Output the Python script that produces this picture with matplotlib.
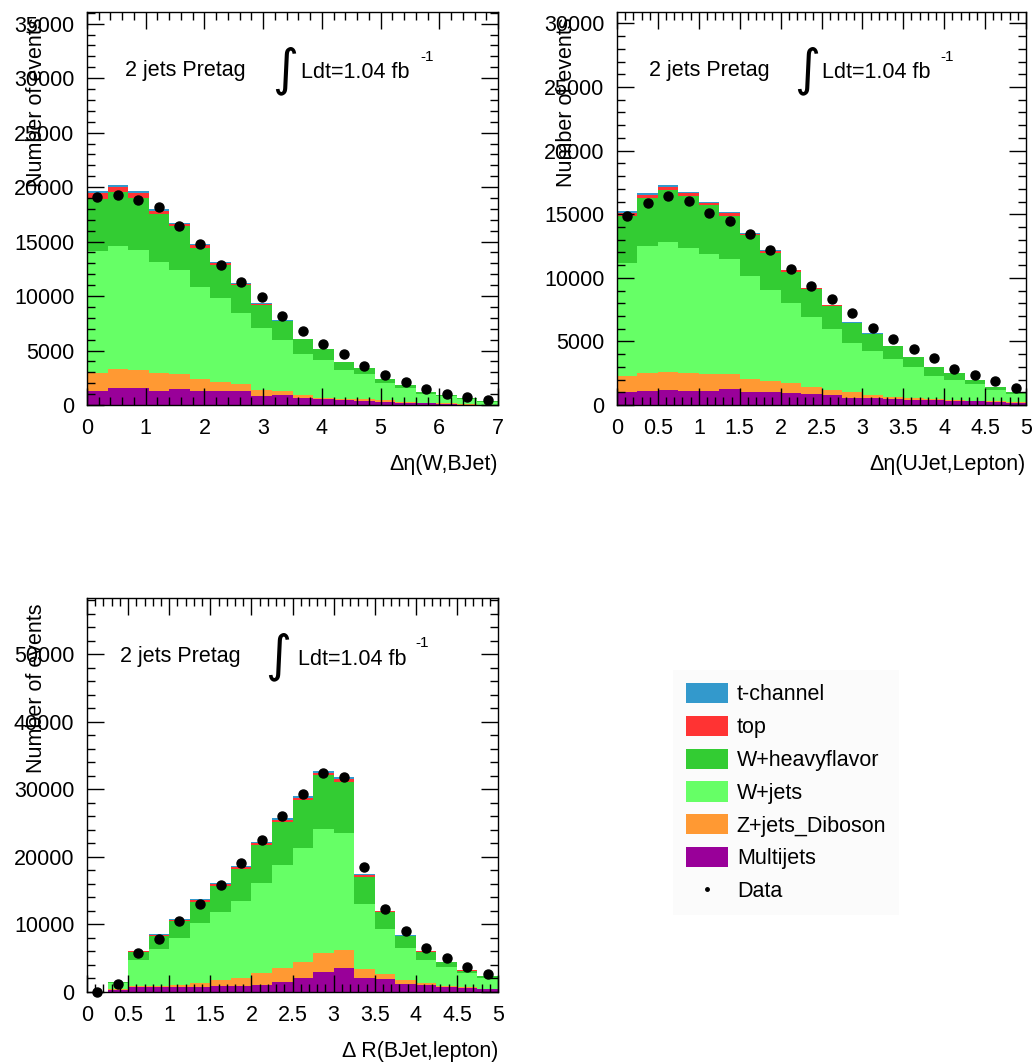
import numpy as np
import matplotlib
matplotlib.use('Agg')
import matplotlib.pyplot as plt
from matplotlib.patches import Patch
from matplotlib.lines import Line2D
from matplotlib.ticker import MultipleLocator, FormatStrFormatter

plt.rcParams['font.family'] = ['Liberation Sans', 'DejaVu Sans']

names = ['t-channel', 'top', 'W+heavyflavor', 'W+jets', 'Z+jets_Diboson', 'Multijets']
colors = ['#3399cc', '#ff3333', '#33cc33', '#66ff66', '#ff9933', '#990099']

# panel 1: delta eta(W, BJet), 20 bins 0..7
p1_tch = [150, 150, 150, 120, 100, 80, 70, 60, 50, 40, 30, 25, 20, 15, 10, 8, 6, 5, 4, 3]
p1_top = [550, 500, 500, 350, 250, 250, 150, 120, 80, 60, 40, 30, 20, 20, 15, 10, 8, 5, 5, 3]
p1_whf = [4780, 4900, 4750, 4400, 3970, 3570, 3040, 2530, 2150, 1670, 1360, 1010, 720, 580, 380, 280, 200, 100, 120, 60]
p1_wj = [11270, 11270, 10990, 10200, 9600, 8490, 7710, 6550, 5700, 4690, 3750, 3440, 2620, 2310, 1520, 1230, 790, 640, 430, 270]
p1_zj = [1590, 1740, 1730, 1590, 1370, 1070, 880, 670, 550, 400, 300, 150, 120, 120, 160, 90, 60, 90, 170, 110]
p1_mj = [1310, 1610, 1530, 1310, 1460, 1310, 1250, 1250, 820, 910, 610, 520, 460, 400, 300, 210, 150, 90, -80, -80]
p1_data = [19100, 19280, 18800, 18190, 16420, 14740, 12880, 11330, 9960, 8190, 6760, 5640, 4720, 3560, 2800, 2130, 1430, 1000, 700, 430]

# panel 2: delta eta(UJet, Lepton), 20 bins 0..5
p2_tch = [120, 120, 120, 110, 100, 90, 80, 70, 60, 50, 40, 30, 25, 20, 15, 12, 10, 8, 6, 5]
p2_top = [250, 250, 250, 220, 200, 180, 150, 130, 100, 80, 60, 50, 40, 30, 25, 20, 15, 10, 8, 6]
p2_whf = [3700, 3810, 4130, 4120, 3850, 3440, 3190, 2880, 2460, 2180, 1830, 1550, 1300, 1020, 750, 670, 540, 320, 250, 170]
p2_wj = [8890, 9940, 10190, 9800, 9360, 9020, 8100, 7170, 6320, 5530, 4780, 3890, 3480, 2960, 2430, 1830, 1570, 1280, 880, 650]
p2_zj = [1230, 1410, 1430, 1410, 1360, 1200, 1000, 860, 740, 550, 400, 420, 260, 180, 180, 80, 70, 40, 40, 30]
p2_mj = [1040, 1120, 1180, 1120, 1120, 1230, 1040, 1040, 960, 840, 780, 570, 520, 470, 390, 390, 320, 300, 260, 180]
p2_data = [14900, 15860, 16460, 16070, 15110, 14430, 13410, 12150, 10720, 9350, 8330, 7240, 6090, 5230, 4410, 3660, 2870, 2330, 1860, 1360]

# panel 3: delta R(BJet, lepton), 20 bins 0..5
p3_tch = [5, 40, 80, 100, 120, 150, 170, 190, 200, 220, 240, 260, 260, 140, 100, 70, 50, 40, 30, 20]
p3_top = [5, 60, 120, 150, 180, 220, 250, 280, 300, 330, 350, 380, 380, 200, 140, 100, 70, 50, 40, 30]
p3_whf = [10, 40, 1180, 1970, 2510, 3180, 3960, 4670, 5560, 6360, 7060, 7980, 7550, 4050, 2520, 1710, 1260, 740, 410, 290]
p3_wj = [30, 980, 3840, 5430, 6860, 8880, 10020, 11380, 13400, 15180, 16860, 18390, 17350, 9670, 6660, 4780, 3450, 2760, 2080, 1590]
p3_zj = [100, 150, 100, 140, 390, 590, 880, 1230, 1730, 2070, 2450, 2700, 2710, 1320, 740, 590, 240, 90, 50, 40]
p3_mj = [-100, 250, 790, 790, 690, 690, 890, 890, 1040, 1530, 2030, 3020, 3500, 2030, 1870, 1180, 1040, 800, 640, 400]
p3_data = [0, 1180, 5720, 7840, 10550, 13020, 15870, 19130, 22430, 26030, 29280, 32430, 31750, 18440, 12230, 9020, 6550, 5070, 3740, 2710]

fig = plt.figure(figsize=(10.32, 10.62), dpi=100)
FS = 15.5


def draw_panel(rect, comps, data, xmax, ymax, xmaj, xmin_, ymaj, ymin_, xlabel, txt_x):
    ax = fig.add_axes(rect)
    edges = np.linspace(0, xmax, len(data) + 1)
    centers = 0.5 * (edges[1:] + edges[:-1])
    # THStack style: cumulative sums, bottom component first
    stack = np.cumsum(np.array(comps[::-1], dtype=float), axis=0)[::-1]
    for lvl, col in zip(stack, colors):
        ax.stairs(lvl, edges, baseline=0, fill=True, color=col, lw=0)
    ax.plot(centers, data, 'o', color='black', ms=6.5, clip_on=False, zorder=5)
    ax.set_xlim(0, xmax)
    ax.set_ylim(0, ymax)
    ax.xaxis.set_major_locator(MultipleLocator(xmaj))
    ax.xaxis.set_minor_locator(MultipleLocator(xmin_))
    ax.xaxis.set_major_formatter(FormatStrFormatter('%g'))
    ax.yaxis.set_major_locator(MultipleLocator(ymaj))
    ax.yaxis.set_minor_locator(MultipleLocator(ymin_))
    ax.tick_params(which='both', direction='in', top=True, right=True, labelsize=FS, width=1)
    ax.tick_params(which='major', length=12)
    ax.tick_params(which='minor', length=6)
    ax.tick_params(axis='x', pad=9)
    ax.tick_params(axis='y', pad=9)
    for s in ax.spines.values():
        s.set_linewidth(1.0)
    ax.set_axisbelow(False)
    ax.set_xlabel(xlabel, fontsize=FS, loc='right')
    ax.set_ylabel('Number of events', fontsize=FS, loc='top')
    ax.yaxis.set_label_coords(-0.098, 0.985)
    ax.xaxis.set_label_coords(1.0, -0.125)
    ax.text(txt_x[0], 0.852, '2 jets Pretag', fontsize=FS, transform=ax.transAxes, va='center')
    ax.text(txt_x[1], 0.852, '\u222b', fontsize=36, family='DejaVu Sans', transform=ax.transAxes,
            va='center', ha='center')
    ax.text(txt_x[2], 0.845, 'Ldt=1.04 fb', fontsize=FS, transform=ax.transAxes, va='center')
    ax.text(txt_x[3], 0.885, '-1', fontsize=11, transform=ax.transAxes, va='center')
    return ax


draw_panel([0.0843, 0.6186, 0.3983, 0.3701],
           [p1_tch, p1_top, p1_whf, p1_wj, p1_zj, p1_mj], p1_data,
           7, 36070, 1, 0.2, 5000, 1000, '\u0394\u03b7(W,BJet)', [0.0925, 0.482, 0.521, 0.81])
draw_panel([0.5979, 0.6186, 0.3963, 0.3701],
           [p2_tch, p2_top, p2_whf, p2_wj, p2_zj, p2_mj], p2_data,
           5, 30900, 0.5, 0.1, 5000, 1000, '\u0394\u03b7(UJet,Lepton)', [0.078, 0.466, 0.502, 0.79])
draw_panel([0.0843, 0.0659, 0.3983, 0.3710],
           [p3_tch, p3_top, p3_whf, p3_wj, p3_zj, p3_mj], p3_data,
           5, 58300, 0.5, 0.1, 10000, 2000, '\u0394 R(BJet,lepton)', [0.080, 0.465, 0.513, 0.80])

handles = [Patch(facecolor=c, edgecolor='none') for c in colors]
handles.append(Line2D([], [], ls='none', marker='o', ms=2.5, color='black'))
leg = fig.legend(handles, names + ['Data'], loc='upper left', bbox_to_anchor=(0.652, 0.369),
                 fontsize=FS, frameon=True, fancybox=False, facecolor='#fafafa', edgecolor='none',
                 handlelength=1.95, handleheight=1.07, handletextpad=0.42, labelspacing=0.48,
                 borderpad=0.6, borderaxespad=0)

fig.savefig('out.png', dpi=100)
